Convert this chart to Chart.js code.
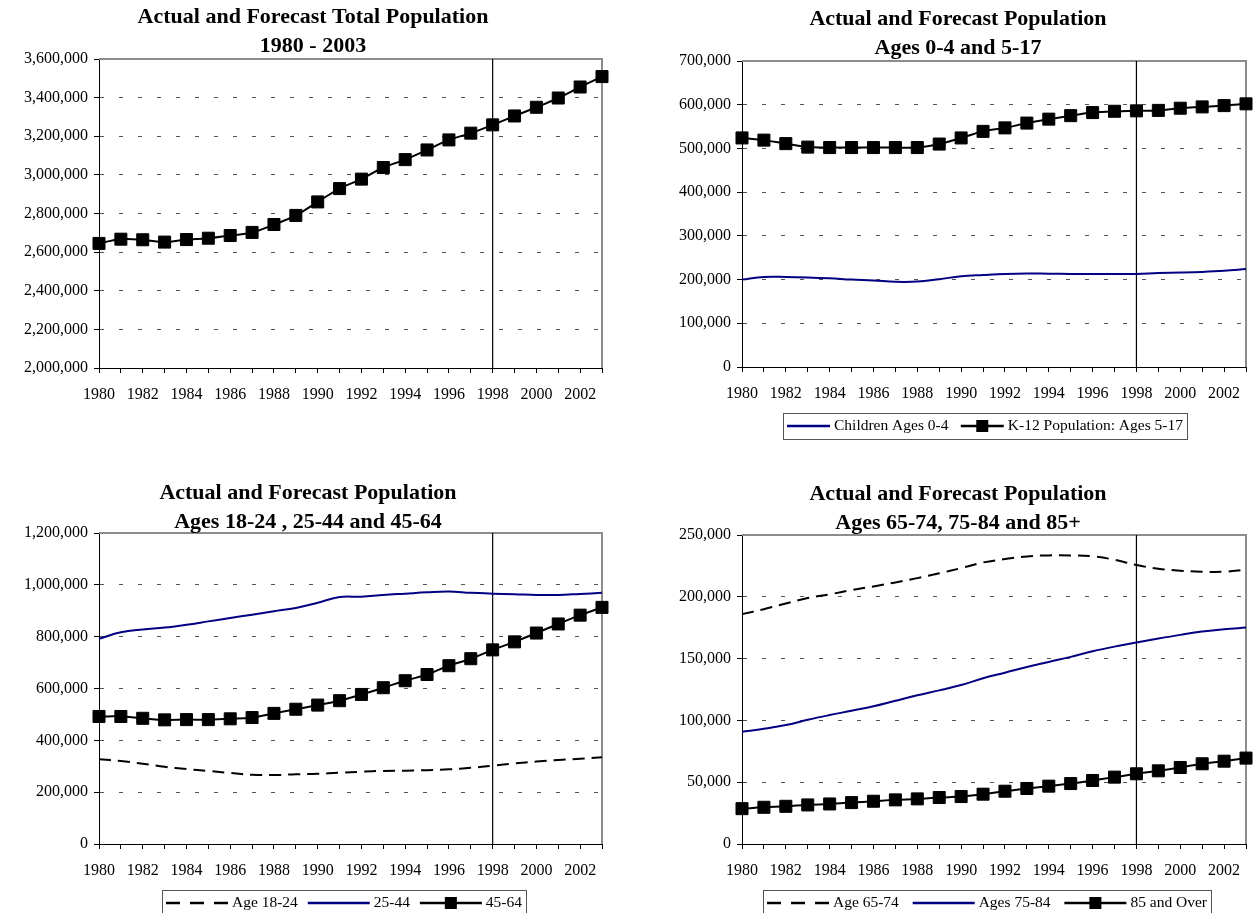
<!DOCTYPE html>
<html>
<head>
<meta charset="utf-8">
<script src="https://cdn.jsdelivr.net/npm/chart.js@4.4.1/dist/chart.umd.min.js"></script>
<style>
  body { margin: 0; background: #fff; width: 1258px; height: 913px; overflow: hidden; position: relative; }
  canvas { position: absolute; }
</style>
</head>
<body>
<canvas id="totalChart" width="629" height="450" style="left:0;top:0"></canvas>
<canvas id="youthChart" width="629" height="450" style="left:629px;top:0"></canvas>
<canvas id="adultChart" width="629" height="463" style="left:0;top:450px"></canvas>
<canvas id="seniorChart" width="629" height="463" style="left:629px;top:450px"></canvas>
<script>
const years = ['1980', '1981', '1982', '1983', '1984', '1985', '1986', '1987', '1988', '1989', '1990', '1991',
               '1992', '1993', '1994', '1995', '1996', '1997', '1998', '1999', '2000', '2001', '2002', '2003'];
const forecastStart = '1998';

const totalPop = [2645000, 2667000, 2664000, 2652000, 2665000, 2672000, 2686000, 2702000, 2743000, 2790000, 2860000, 2929000,
                  2978000, 3038000, 3079000, 3129000, 3181000, 3216000, 3259000, 3305000, 3350000, 3398000, 3455000, 3509000];

const children0to4 = [200000, 206000, 206000, 205000, 203000, 200000, 198000, 195000, 195500, 201000, 207500, 210500,
                      213000, 214000, 213500, 213000, 213000, 213000, 213000, 215000, 216000, 217500, 220000, 224000];
const k12 = [524000, 519000, 511000, 503000, 502000, 502000, 502000, 502000, 502000, 510000, 524000, 539000,
             547000, 558000, 567000, 575000, 582000, 585000, 586000, 587000, 592000, 595000, 598000, 602000];

const age18to24 = [327000, 320000, 310000, 298000, 289000, 282000, 274000, 267000, 266000, 269000, 271000, 275000,
                   279000, 282000, 283000, 285000, 288000, 294000, 302000, 311000, 318000, 324000, 329000, 335000];
const age25to44 = [792000, 817000, 828000, 835000, 846000, 859000, 872000, 885000, 898000, 911000, 931000, 953000,
                   954000, 961000, 966000, 971000, 974000, 969000, 966000, 964000, 961000, 961000, 965000, 969000];
const age45to64 = [492000, 492000, 485000, 479000, 480000, 480000, 483000, 488000, 504000, 520000, 536000, 553000,
                   577000, 603000, 630000, 654000, 688000, 715000, 749000, 780000, 814000, 849000, 883000, 913000];

const age65to74 = [186000, 190000, 194600, 199000, 202000, 205400, 208400, 211600, 215100, 219000, 223200, 227800,
                   230500, 232700, 233500, 233500, 232700, 230000, 225700, 222700, 221100, 220300, 220300, 221900];
const age75to84 = [90800, 93200, 96200, 100500, 104300, 107800, 111400, 115900, 120300, 124300, 128600, 134100,
                   138600, 143200, 147300, 151400, 155900, 159700, 163000, 166200, 169200, 171900, 173800, 175100];
const age85plus = [28600, 29700, 30500, 31600, 32400, 33500, 34600, 35700, 36500, 37600, 38400, 40300,
                   42700, 44900, 46800, 48900, 51400, 54100, 56800, 59200, 61900, 64900, 67000, 69500];

const FONT = '"Liberation Serif", "Times New Roman", serif';
const NAVY = '#000080';
const X_AXIS_H = 40;
const TICK_FONT = 16;

Chart.defaults.font.family = FONT;
Chart.defaults.color = '#000';

// line styles used across the four charts
const markerLine = (label, data) => ({
  label, data, borderColor: '#000', borderWidth: 2, pointStyle: 'rect', pointRadius: 8.5,
  pointBackgroundColor: '#000', pointBorderColor: '#000', pointBorderWidth: 1, clip: false
});
const solidLine = (label, data) => ({ label, data, borderColor: NAVY, borderWidth: 2, pointRadius: 0, clip: false });
const dashLine = (label, data) => ({ label, data, borderColor: '#000', borderWidth: 2, borderDash: [12, 7], pointRadius: 0, clip: false });

// frame, forecast divider, titles and boxed legend
const panelDecor = {
  id: 'panelDecor',
  beforeDatasetsDraw(chart, args, opts) {
    const { ctx, chartArea: a, scales: { x } } = chart;
    ctx.save();
    ctx.strokeStyle = '#8c8c8c';
    ctx.lineWidth = 2;
    ctx.beginPath();
    ctx.moveTo(a.left, a.top);
    ctx.lineTo(a.right, a.top);
    ctx.lineTo(a.right, a.bottom);
    ctx.stroke();

    const xp = x.getPixelForValue(years.indexOf(forecastStart));
    ctx.strokeStyle = '#000';
    ctx.lineWidth = 1.2;
    ctx.beginPath();
    ctx.moveTo(xp, a.top);
    ctx.lineTo(xp, a.bottom);
    ctx.stroke();
    ctx.restore();
  },
  afterDraw(chart, args, opts) {
    const ctx = chart.ctx;
    ctx.save();
    ctx.fillStyle = '#000';
    ctx.textAlign = 'center';
    ctx.textBaseline = 'middle';
    ctx.font = 'bold 22px ' + FONT;
    opts.title.forEach((line, i) => ctx.fillText(line, opts.titleX, opts.titleY[i]));

    const lg = opts.legend;
    if (lg) {
      ctx.font = '15.5px ' + FONT;
      const items = chart.data.datasets.map(ds => ({ ds, tw: ctx.measureText(ds.label).width }));
      const step = lg.sample + 4;
      const content = items.reduce((s, it) => s + step + it.tw, 0);
      const gap = (lg.w - 8 - content) / (items.length - 1);
      const cy = lg.y + lg.h / 2;

      ctx.strokeStyle = '#555';
      ctx.lineWidth = 1;
      ctx.strokeRect(lg.x + 0.5, lg.y + 0.5, lg.w, lg.h);

      let x = lg.x + 4;
      items.forEach(({ ds, tw }) => {
        ctx.save();
        ctx.strokeStyle = ds.borderColor;
        ctx.lineWidth = ds.borderWidth + 0.5;
        ctx.setLineDash(ds.borderDash ? [14, 10] : []);
        ctx.beginPath();
        ctx.moveTo(x, cy);
        ctx.lineTo(x + lg.sample, cy);
        ctx.stroke();
        ctx.restore();
        if (ds.pointRadius) {
          ctx.fillStyle = ds.pointBackgroundColor;
          ctx.fillRect(x + lg.sample / 2 - 6, cy - 6, 12, 12);
        }
        ctx.fillStyle = '#000';
        ctx.textAlign = 'left';
        ctx.fillText(ds.label, x + step, cy);
        x += step + tw + gap;
      });
    }
    ctx.restore();
  }
};

function makeChart(id, cfg) {
  const canvas = document.getElementById(id);
  const W = canvas.width, H = canvas.height;
  const plot = cfg.plot;
  const { min, max, step } = cfg.y;

  return new Chart(canvas, {
    type: 'line',
    data: { labels: years, datasets: cfg.datasets },
    options: {
      responsive: false,
      animation: false,
      layout: { padding: { top: plot.top, left: 0, right: W - plot.right, bottom: H - plot.bottom - X_AXIS_H } },
      elements: { line: { tension: 0.4 } },
      plugins: {
        legend: { display: false },
        tooltip: { enabled: false },
        title: { display: false },
        panelDecor: { title: cfg.title, titleX: cfg.titleX, titleY: cfg.titleY, legend: cfg.legend }
      },
      scales: {
        x: {
          type: 'category',
          offset: false,
          grid: { display: true, drawOnChartArea: false, drawTicks: true, tickLength: 5, tickColor: '#000', color: '#000' },
          border: { display: true, color: '#000', width: 1 },
          ticks: {
            autoSkip: false, maxRotation: 0, minRotation: 0, padding: 12, color: '#000',
            font: { size: TICK_FONT },
            callback: (v, i) => (i % 2 === 0 ? years[i] : '')
          },
          afterFit: s => { s.height = X_AXIS_H; }
        },
        y: {
          min, max,
          ticks: { stepSize: step, padding: 6, color: '#000', font: { size: TICK_FONT }, callback: v => v.toLocaleString('en-US') },
          grid: {
            drawTicks: true, tickLength: 5, tickColor: '#000', lineWidth: 1,
            color: c => (c.tick && (c.tick.value === min || c.tick.value === max)) ? 'rgba(0,0,0,0)' : '#555'
          },
          border: { display: true, color: '#000', width: 1, dash: [4, 15] },
          afterFit: s => { s.width = plot.left; }
        }
      }
    },
    plugins: [panelDecor]
  });
}

makeChart('totalChart', {
  plot: { left: 99, top: 59, right: 602, bottom: 368 },
  y: { min: 2000000, max: 3600000, step: 200000 },
  title: ['Actual and Forecast Total Population', '1980 - 2003'],
  titleX: 313, titleY: [17, 46],
  datasets: [markerLine('Total Population', totalPop)]
});

makeChart('youthChart', {
  plot: { left: 113, top: 61, right: 620, bottom: 367 },
  y: { min: 0, max: 700000, step: 100000 },
  title: ['Actual and Forecast Population', 'Ages 0-4 and 5-17'],
  titleX: 329, titleY: [19, 48],
  legend: { x: 154, y: 413, w: 404, h: 26, sample: 43 },
  datasets: [solidLine('Children Ages 0-4', children0to4), markerLine('K-12 Population: Ages 5-17', k12)]
});

makeChart('adultChart', {
  plot: { left: 99, top: 83, right: 602, bottom: 394 },
  y: { min: 0, max: 1200000, step: 200000 },
  title: ['Actual and Forecast Population', 'Ages 18-24 , 25-44 and 45-64'],
  titleX: 308, titleY: [43, 72],
  legend: { x: 162, y: 440, w: 364, h: 26, sample: 62 },
  datasets: [dashLine('Age 18-24', age18to24), solidLine('25-44', age25to44), markerLine('45-64', age45to64)]
});

makeChart('seniorChart', {
  plot: { left: 113, top: 85, right: 620, bottom: 394 },
  y: { min: 0, max: 250000, step: 50000 },
  title: ['Actual and Forecast Population', 'Ages 65-74, 75-84 and 85+'],
  titleX: 329, titleY: [44, 73],
  legend: { x: 134, y: 440, w: 448, h: 26, sample: 62 },
  datasets: [dashLine('Age 65-74', age65to74), solidLine('Ages 75-84', age75to84), markerLine('85 and Over', age85plus)]
});
</script>
</body>
</html>
